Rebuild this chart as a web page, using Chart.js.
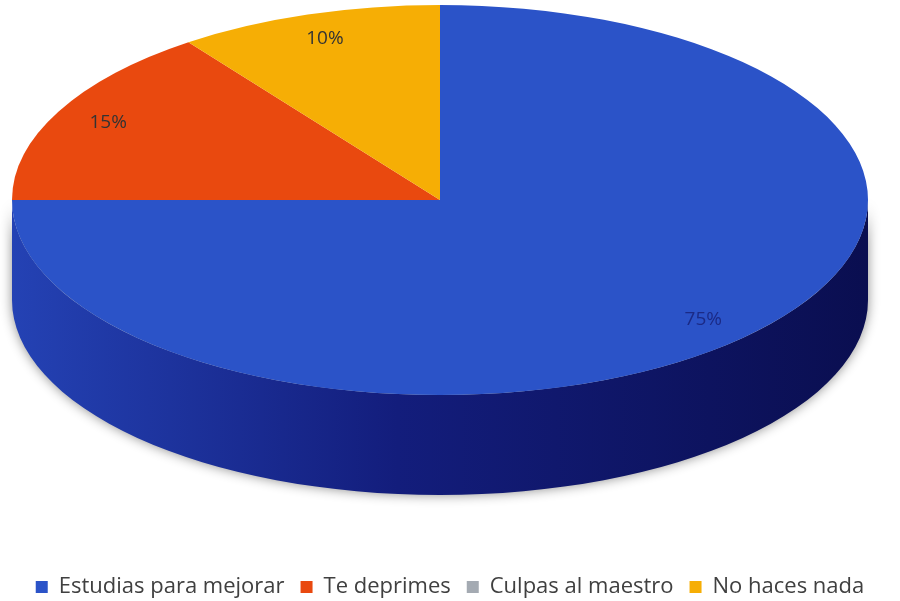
<!DOCTYPE html>
<html>
<head>
<meta charset="utf-8">
<script src="https://cdn.jsdelivr.net/npm/chart.js@4/dist/chart.umd.min.js"></script>
<style>
  body { margin: 0; background: #fff; }
  #wrap { width: 900px; height: 601px; }
</style>
</head>
<body>
<div id="wrap"><canvas id="pieChart"></canvas></div>
<script>
// datos del gráfico
const categorias = ['Estudias para mejorar', 'Te deprimes', 'Culpas al maestro', 'No haces nada'];
const porcentajes = [75, 15, 0, 10];
const colores = ['#2b53c8', '#e9490f', '#a4aab2', '#f6ae05'];
// color de la pared lateral (izquierda -> derecha)
const coloresLado = [
  ['#2442b4', '#131d7c', '#0a0e50'],
  ['#a8350a', '#7a2507', '#4a1604'],
  ['#7a8088', '#5a6068', '#3a4048'],
  ['#b88204', '#8a6103', '#5a3f02']
];
const coloresEtiqueta = ['#1b2a86', '#333333', '#333333', '#333333'];

// pie "3D": se aplasta el círculo en una elipse y se dibuja el canto
const pie3d = {
  id: 'pie3d',
  beforeDatasetsDraw(chart, args, opts) {
    const meta = chart.getDatasetMeta(0);
    const a0 = meta.data[0];
    const cx = a0.x, cy = a0.y, r = a0.outerRadius;
    const ctx = chart.ctx;
    ctx.save();
    ctx.translate(opts.cx, opts.cy);
    ctx.scale(opts.rx / r, opts.ry / r);
    ctx.translate(-cx, -cy);
    const dy = opts.depth * r / opts.ry;

    meta.data.forEach((arc, i) => {
      const s = arc.startAngle, e = arc.endAngle;
      [-2 * Math.PI, 0, 2 * Math.PI].forEach(k => {
        const a = Math.max(s, k), b = Math.min(e, k + Math.PI);
        if (b <= a) return;
        const g = ctx.createLinearGradient(cx - r, 0, cx + r, 0);
        g.addColorStop(0, coloresLado[i][0]);
        g.addColorStop(0.45, coloresLado[i][1]);
        g.addColorStop(1, coloresLado[i][2]);
        ctx.save();
        ctx.shadowColor = 'rgba(0,0,0,0.45)';
        ctx.shadowBlur = 12;
        ctx.beginPath();
        ctx.arc(cx, cy, r, a, b, false);
        ctx.arc(cx, cy + dy, r, b, a, true);
        ctx.closePath();
        ctx.fillStyle = g;
        ctx.fill();
        ctx.restore();
      });
    });
  },
  afterDatasetsDraw(chart, args, opts) {
    const ctx = chart.ctx;
    ctx.restore();
    const meta = chart.getDatasetMeta(0);
    ctx.save();
    ctx.textAlign = 'center';
    ctx.textBaseline = 'middle';
    ctx.font = '19px "Open Sans"';
    meta.data.forEach((arc, i) => {
      const v = porcentajes[i];
      if (!v) return;
      const mid = (arc.startAngle + arc.endAngle) / 2;
      const px = opts.cx + Math.cos(mid) * opts.labelPos * opts.rx;
      const py = opts.cy + Math.sin(mid) * opts.labelPos * opts.ry;
      ctx.fillStyle = coloresEtiqueta[i];
      ctx.fillText(v + '%', px, py);
    });
    ctx.restore();
  }
};

new Chart(document.getElementById('pieChart'), {
  type: 'pie',
  data: {
    labels: categorias,
    datasets: [{
      data: porcentajes,
      backgroundColor: colores,
      borderWidth: 0
    }]
  },
  options: {
    responsive: true,
    maintainAspectRatio: false,
    animation: false,
    layout: { padding: { top: 10, bottom: -7, left: 0, right: 0 } },
    plugins: {
      legend: {
        position: 'bottom',
        labels: {
          boxWidth: 12,
          boxHeight: 12,
          padding: 16,
          color: '#404040',
          font: { family: 'Open Sans', size: 22 }
        }
      },
      tooltip: { enabled: false },
      pie3d: { cx: 440, cy: 200, rx: 428, ry: 195, depth: 100, labelPos: 0.87 }
    }
  },
  plugins: [pie3d]
});
</script>
</body>
</html>
